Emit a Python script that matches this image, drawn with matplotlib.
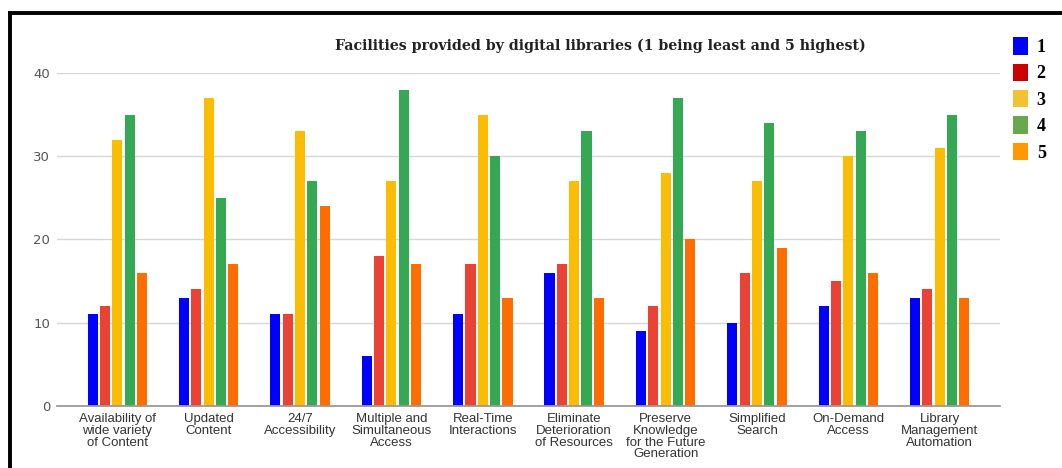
import matplotlib

matplotlib.use("Agg")
import matplotlib.pyplot as plt  # noqa: E402
import numpy as np  # noqa: E402
from matplotlib.lines import Line2D  # noqa: E402
from matplotlib.patches import Patch  # noqa: E402

categories = [
    "Availability of\nwide variety\nof Content",
    "Updated\nContent",
    "24/7\nAccessibility",
    "Multiple and\nSimultaneous\nAccess",
    "Real-Time\nInteractions",
    "Eliminate\nDeterioration\nof Resources",
    "Preserve\nKnowledge\nfor the Future\nGeneration",
    "Simplified\nSearch",
    "On-Demand\nAccess",
    "Library\nManagement\nAutomation",
]
ratings = ["1", "2", "3", "4", "5"]
rating_1 = [11, 13, 11, 6, 11, 16, 9, 10, 12, 13]
rating_2 = [12, 14, 11, 18, 17, 17, 12, 16, 15, 14]
rating_3 = [32, 37, 33, 27, 35, 27, 28, 27, 30, 31]
rating_4 = [35, 25, 27, 38, 30, 33, 37, 34, 33, 35]
rating_5 = [16, 17, 24, 17, 13, 13, 20, 19, 16, 13]
series = [rating_1, rating_2, rating_3, rating_4, rating_5]

bar_colors = ["#0000ff", "#ea4335", "#fbbc04", "#34a853", "#ff6d01"]
legend_colors = ["#0000ff", "#cc0000", "#f1c232", "#6aa84f", "#ff9900"]

W, H = 1062, 468
fig = plt.figure(figsize=(W / 100, H / 100), dpi=100)
ax = fig.add_axes([57 / W, 1 - 406 / H, (1000 - 57) / W, (406 - 73) / H])

x = np.arange(len(categories))
step = 0.135
width = 0.11
for i, (vals, col) in enumerate(zip(series, bar_colors)):
    ax.bar(x + (i - 2) * step, vals, width=width, color=col, zorder=3)

ax.set_xlim(-0.66, 9.66)
ax.set_ylim(0, 40)
ax.set_yticks([0, 10, 20, 30, 40])
ax.grid(axis="y", color="#d6d6d6", linewidth=1, zorder=0)
ax.set_xticks(x)
ax.set_xticklabels(categories, fontsize=9.5, family="Liberation Sans",
                   color="#333333", linespacing=0.98)
ax.tick_params(axis="x", length=0, pad=5)
ax.tick_params(axis="y", length=0, pad=5, labelsize=9.5, labelcolor="#555555")
for side in ("top", "right", "left"):
    ax.spines[side].set_visible(False)
ax.spines["bottom"].set_color("#999999")
ax.spines["bottom"].set_linewidth(1.3)
ax.spines["bottom"].set_zorder(4)

fig.text(600 / W, 1 - 46 / H,
         "Facilities provided by digital libraries (1 being least and 5 highest)",
         ha="center", va="center", family="DejaVu Serif", weight="bold",
         fontsize=10.2, color="#222222")

handles = [Patch(facecolor=c, edgecolor="none") for c in legend_colors]
fig.legend(handles, ratings, loc="upper left",
           bbox_to_anchor=(1006 / W, 1 - 30 / H), frameon=False,
           prop={"family": "Liberation Serif", "weight": "bold", "size": 13},
           handlelength=0.8, handleheight=1.1, handletextpad=0.5,
           labelspacing=0.42, borderaxespad=0)

# black frame on the top and left edges
fig.add_artist(Line2D([9.5 / W, 1], [1 - 12.5 / H, 1 - 12.5 / H],
                      transform=fig.transFigure, color="black", linewidth=2.8))
fig.add_artist(Line2D([9.5 / W, 9.5 / W], [0, 1 - 12.5 / H],
                      transform=fig.transFigure, color="black", linewidth=2.8))

fig.savefig("out.png", dpi=100)
